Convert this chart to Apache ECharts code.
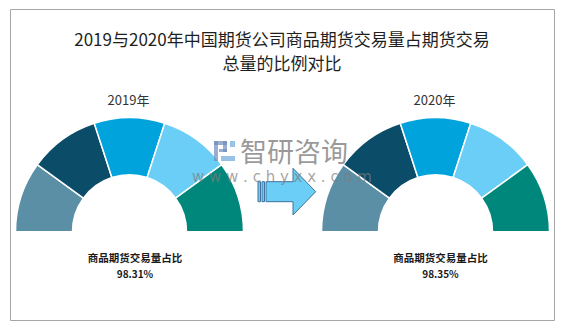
<!DOCTYPE html>
<html>
<head>
<meta charset="utf-8">
<script src="https://cdn.jsdelivr.net/npm/echarts@6/dist/echarts.min.js"></script>
<style>
html,body{margin:0;padding:0;background:#fff;}
#main{width:563px;height:326px;}
</style>
</head>
<body>
<div id="main"></div>
<script>
// ---- data ----
var titleLines = ['2019与2020年中国期货公司商品期货交易量占期货交易', '总量的比例对比'];
var years = ['2019年', '2020年'];
var segmentNames = ['段一', '段二', '段三', '段四', '段五'];
var segments2019 = [20, 20, 20, 20, 20];
var segments2020 = [20, 20, 20, 20, 20];
var ratioLabel = '商品期货交易量占比';
var ratios = ['98.31%', '98.35%'];
var segmentColors = ['#5B8FA6', '#0B4C68', '#00A3DB', '#6ACEF6', '#00877C'];

var chart = echarts.init(document.getElementById('main'), null, {renderer: 'svg'});
var FONT = '"Noto Sans CJK SC", "Noto Sans", sans-serif';

function pieSeries(values, cx) {
  return {
    type: 'pie',
    center: [cx, 231.7],
    radius: [57, 114],
    startAngle: 180,
    endAngle: 0,
    clockwise: true,
    silent: true,
    z: 1,
    label: {show: false},
    labelLine: {show: false},
    itemStyle: {borderColor: '#ffffff', borderWidth: 1.5},
    data: values.map(function (v, i) {
      return {name: segmentNames[i], value: v, itemStyle: {color: segmentColors[i]}};
    })
  };
}

var centers = [129.5, 435.5];
var labelCenters = [135, 440.5];

var graphics = [
  {type: 'rect', z: 0, shape: {x: 10.5, y: 9.5, width: 544, height: 311}, style: {fill: 'none', stroke: '#a6a6a6', lineWidth: 1}},
  {type: 'text', z: 3, style: {text: titleLines[0], x: 282, y: 38.5, textAlign: 'center', textVerticalAlign: 'middle', font: '17px ' + FONT, fill: '#1f1f1f'}},
  {type: 'text', z: 3, style: {text: titleLines[1], x: 282, y: 62, textAlign: 'center', textVerticalAlign: 'middle', font: '17px ' + FONT, fill: '#1f1f1f'}}
];
years.forEach(function (y, i) {
  graphics.push({type: 'text', z: 3, style: {text: y, x: centers[i] - 1, y: 99, textAlign: 'center', textVerticalAlign: 'middle', font: '13px ' + FONT, fill: '#333'}});
  graphics.push({type: 'text', z: 3, style: {text: ratioLabel, x: labelCenters[i], y: 257.5, textAlign: 'center', textVerticalAlign: 'middle', font: 'bold 10.5px ' + FONT, fill: '#1a1a1a'}});
  graphics.push({type: 'text', z: 3, style: {text: ratios[i], x: labelCenters[i], y: 273, textAlign: 'center', textVerticalAlign: 'middle', font: 'bold 10px ' + FONT, fill: '#1a1a1a'}});
});
// arrow
var ARROW = {fill: '#6ACEF6', stroke: '#41719C', lineWidth: 1};
graphics.push({type: 'rect', z: 5, shape: {x: 258, y: 181.7, width: 2.5, height: 20}, style: ARROW});
graphics.push({type: 'rect', z: 5, shape: {x: 262, y: 181.7, width: 2.5, height: 20}, style: ARROW});
graphics.push({type: 'polygon', z: 5, shape: {points: [[266, 181.7], [293, 181.7], [293, 168.3], [315.7, 191.7], [293, 215], [293, 201.7], [266, 201.7]]}, style: ARROW});
// watermark
var LOGO_A = 'rgba(110,140,190,0.7)', LOGO_B = 'rgba(110,170,220,0.7)';
graphics.push({type: 'rect', z: 20, shape: {x: 214, y: 141, width: 4, height: 20}, style: {fill: LOGO_A}});
graphics.push({type: 'rect', z: 20, shape: {x: 214, y: 141, width: 13, height: 4}, style: {fill: LOGO_A}});
graphics.push({type: 'rect', z: 20, shape: {x: 223, y: 141, width: 4, height: 11}, style: {fill: LOGO_A}});
graphics.push({type: 'rect', z: 20, shape: {x: 219, y: 149, width: 8, height: 3}, style: {fill: LOGO_A}});
graphics.push({type: 'rect', z: 20, shape: {x: 230, y: 141, width: 5, height: 6}, style: {fill: LOGO_B}});
graphics.push({type: 'rect', z: 20, shape: {x: 221, y: 156, width: 14, height: 5}, style: {fill: LOGO_B}});
graphics.push({type: 'text', z: 20, style: {text: '智研咨询', x: 240, y: 150, textAlign: 'left', textVerticalAlign: 'middle', font: '27px ' + FONT, fill: 'rgba(120,120,120,0.75)'}});
graphics.push({type: 'text', z: 20, style: {text: 'w w w . c h y x x . c o m', x: 282, y: 177, textAlign: 'center', textVerticalAlign: 'middle', font: '15px "DejaVu Sans", sans-serif', fill: 'rgba(125,125,125,0.7)'}});

chart.setOption({
  backgroundColor: '#ffffff',
  animation: false,
  series: [pieSeries(segments2019, centers[0]), pieSeries(segments2020, centers[1])],
  graphic: graphics
});
</script>
</body>
</html>
